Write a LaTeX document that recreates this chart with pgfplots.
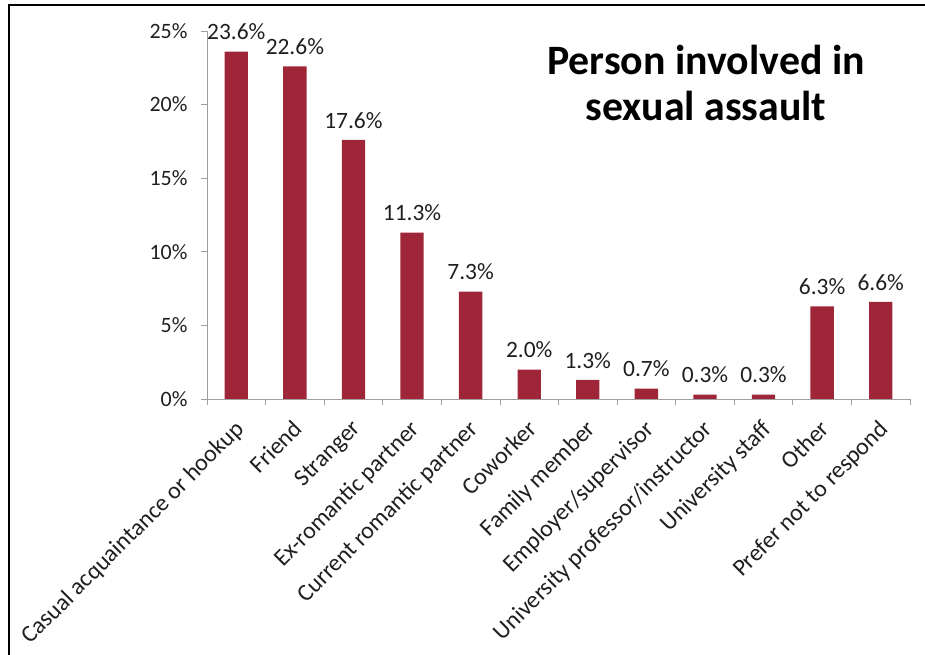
\documentclass[border=0pt]{standalone}
\usepackage{pgfplots}
\pgfplotsset{compat=1.18}
\usepackage{fontspec}
\setmainfont{Carlito}
\definecolor{barred}{RGB}{158,38,56}
\definecolor{axgray}{RGB}{160,160,160}
\begin{document}
\begin{tikzpicture}
\path[use as bounding box] (0,0) rectangle (925bp,655bp);
\draw[line width=2.6bp, black] (9bp,0) -- (9bp,650bp) -- (925bp,650bp);
\begin{axis}[
  at={(207bp,256bp)}, anchor=south west,
  scale only axis, width=703bp, height=368bp,
  xmin=-0.5, xmax=11.5, ymin=0, ymax=25,
  axis x line*=bottom, axis y line*=left,
  axis line style={axgray, line width=0.8bp},
  xtick={0,...,11},
  xticklabels={Casual acquaintance or hookup, Friend, Stranger, Ex-romantic partner, Current romantic partner, Coworker, Family member, Employer/supervisor, University professor/instructor, University staff, Other, Prefer not to respond},
  minor xtick={-0.5,0.5,...,11.5},
  every major x tick/.style={draw=none},
  every minor x tick/.style={draw=axgray, line width=0.8bp},
  minor tick length=6bp,
  ytick={0,5,...,25},
  major tick length=6bp,
  tick align=outside,
  every major y tick/.style={draw=axgray, line width=0.8bp},
  /pgf/number format/assume math mode=true,
  yticklabel={\pgfmathprintnumber{\tick}\%},
  ticklabel style={text=black!88},
  yticklabel style={font=\fontsize{22}{26}\selectfont, xshift=-10bp},
  xticklabel style={font=\fontsize{24}{28}\selectfont, xshift=-3bp, yshift=-12bp, rotate=45, anchor=north east, inner sep=1bp},
  ybar, bar width=23.4bp,
  nodes near coords={\pgfmathprintnumber[fixed,fixed zerofill,precision=1]{\pgfplotspointmeta}\%},
  every node near coord/.append style={font=\fontsize{23.5}{28}\selectfont, text=black!88, yshift=8bp},
]
\addplot[fill=barred, draw=none] coordinates {
(0,23.6) (1,22.6) (2,17.6) (3,11.3) (4,7.3) (5,2.0) (6,1.3) (7,0.7) (8,0.3) (9,0.3) (10,6.3) (11,6.6)
};
\end{axis}
\node[font=\bfseries\fontsize{42}{47}\selectfont, align=center] at (706bp,572bp) {Person involved in\\sexual assault};
\end{tikzpicture}
\end{document}
